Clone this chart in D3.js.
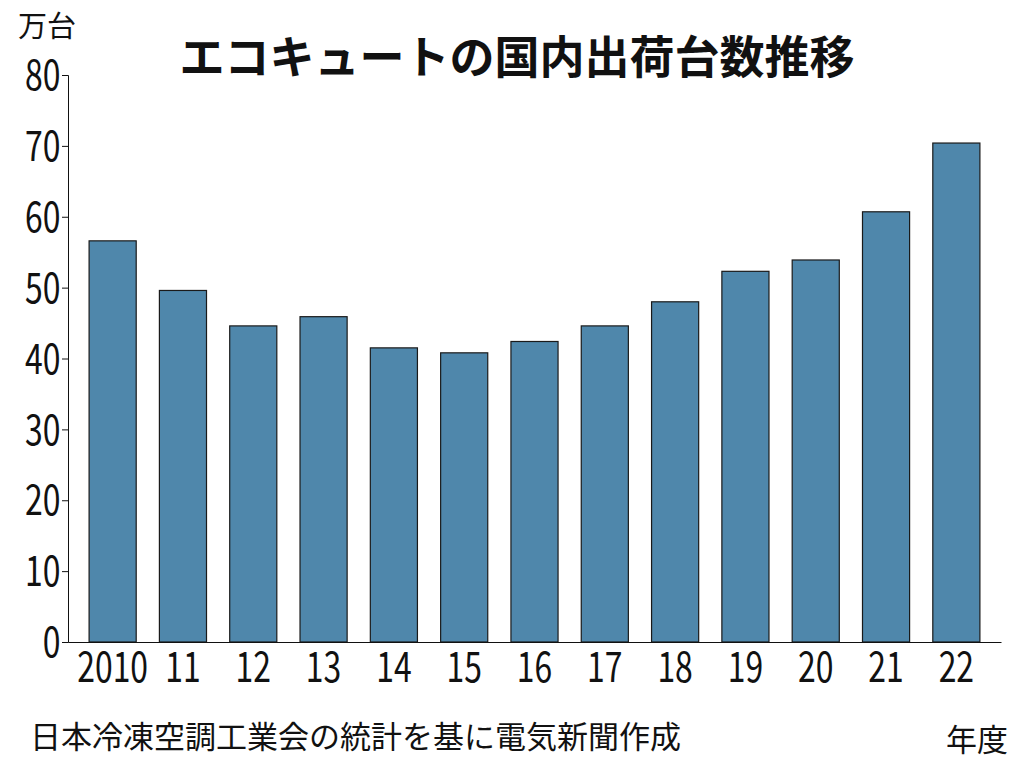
<!DOCTYPE html>
<html><head><meta charset="utf-8">
<script src="https://cdn.jsdelivr.net/npm/d3@7"></script>
<style>body{margin:0;background:#fff}text{font-family:"Noto Sans CJK JP","Noto Sans",sans-serif}</style>
</head><body><svg id="c" width="1024" height="765"></svg>
<script>
const years = ["2010","11","12","13","14","15","16","17","18","19","20","21","22"]
const shipments = [56.6,49.6,44.6,45.9,41.5,40.8,42.4,44.6,48.0,52.3,53.9,60.7,70.4]
const yTicks = [0,10,20,30,40,50,60,70,80]

const svg = d3.select("#c")
const x = d3.scaleBand().domain(years).range([68,1001]).paddingInner(0.33).paddingOuter(0.3)
const y = d3.scaleLinear().domain([0,80]).range([642,75])

svg.append("g").selectAll("rect").data(years).join("rect")
  .attr("x", d => x(d)).attr("width", x.bandwidth())
  .attr("y", (d,i) => y(shipments[i])).attr("height", (d,i) => y(0)-y(shipments[i]))
  .attr("fill","#4f87ab").attr("stroke","#1a1a1a").attr("stroke-width",1.2)

svg.append("g").attr("transform","translate(68,0)")
  .call(d3.axisLeft(y).tickValues(yTicks).tickSize(6).tickPadding(4))
  .call(g => g.select(".domain").attr("stroke","#111"))
  .call(g => g.selectAll("line").attr("stroke","#111"))
  .call(g => g.selectAll("text").attr("font-size",42).attr("fill","#111").attr("dy","0.35em")
    .attr("x",-10).attr("text-anchor","end").attr("transform","scale(0.76,1)"))

svg.append("g").attr("transform","translate(0,642)")
  .call(d3.axisBottom(x).tickSize(0).tickPadding(10).tickSizeOuter(0))
  .call(g => g.select(".domain").attr("stroke","#111"))
  .call(g => g.selectAll("text").attr("font-size",42).attr("fill","#111").attr("transform","scale(0.76,1)"))

svg.append("text").attr("x",517).attr("y",74).attr("text-anchor","middle")
  .attr("font-size",45).attr("font-weight","bold").attr("fill","#111").text("エコキュートの国内出荷台数推移")
svg.append("text").attr("x",18).attr("y",37).attr("font-size",29).attr("fill","#111").text("万台")
svg.append("text").attr("x",30).attr("y",748).attr("font-size",31).attr("fill","#111").text("日本冷凍空調工業会の統計を基に電気新聞作成")
svg.append("text").attr("x",1008).attr("y",751).attr("text-anchor","end").attr("font-size",31).attr("fill","#111").text("年度")
</script></body></html>
